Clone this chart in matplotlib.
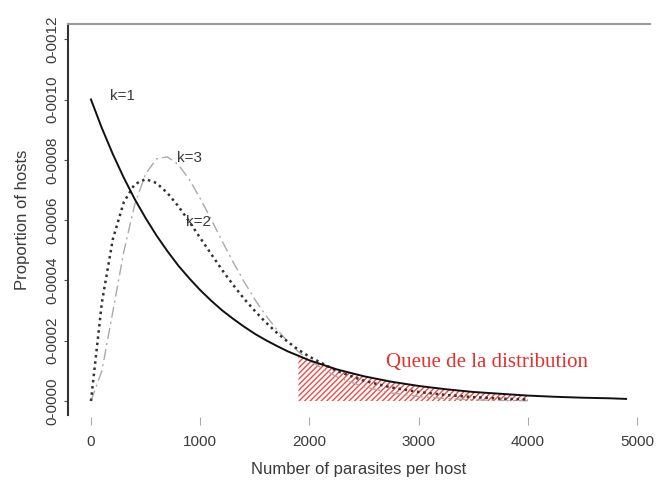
import numpy as np
import matplotlib
matplotlib.use("Agg")
import matplotlib.pyplot as plt

# parasites per host (x) and proportion of hosts (in units of 1e-4)
parasites = [0, 100, 200, 300, 400, 500, 600, 700, 800, 900, 1000,
             1100, 1200, 1300, 1400, 1500, 1600, 1700, 1800, 1900, 2000,
             2250, 2500, 2750, 3000, 3250, 3500, 3750, 4000,
             4250, 4500, 4750, 4900]
k1 = [10.00, 9.05, 8.19, 7.41, 6.70, 6.07, 5.49, 4.97, 4.49, 4.07, 3.68,
      3.33, 3.01, 2.73, 2.47, 2.23, 2.02, 1.83, 1.65, 1.50, 1.35,
      1.05, 0.82, 0.64, 0.50, 0.39, 0.30, 0.24, 0.18,
      0.14, 0.11, 0.09, 0.07]
k2 = [0.00, 3.27, 5.36, 6.59, 7.19, 7.36, 7.23, 6.90, 6.46, 5.95, 5.41,
      4.88, 4.35, 3.86, 3.40, 2.99, 2.61, 2.27, 1.97, 1.70, 1.47,
      1.00, 0.67, 0.45, 0.30, 0.20, 0.13, 0.08, 0.05]
k3 = [0.00, 1.00, 2.96, 4.94, 6.51, 7.53, 8.03, 8.10, 7.84, 7.35, 6.72,
      6.03, 5.31, 4.62, 3.97, 3.37, 2.84, 2.38, 1.98, 1.63, 1.34,
      0.80, 0.47, 0.27, 0.15, 0.08, 0.04, 0.02, 0.01]

tail_start, tail_end = 1900, 4000
x_ticks = [0, 1000, 2000, 3000, 4000, 5000]
y_ticks = [0.0, 0.0002, 0.0004, 0.0006, 0.0008, 0.0010, 0.0012]
y_labels = ["0-0000", "0-0002", "0-0004", "0-0006", "0-0008", "0-0010", "0-0012"]

x = np.array(parasites)
y1 = np.array(k1) * 1e-4
y2 = np.array(k2) * 1e-4
y3 = np.array(k3) * 1e-4

txt = "#3a3a3a"
plt.rcParams["font.family"] = ["Liberation Sans", "DejaVu Sans"]
plt.rcParams["hatch.linewidth"] = 1.0

fig = plt.figure(figsize=(6.56, 4.82), dpi=100)
ax = fig.add_axes([0.1037, 0.139, 0.8872, 0.8112])

# shaded tail of the distribution
mask = (x >= tail_start) & (x <= tail_end)
ax.fill_between(x[mask], 0, y1[mask], facecolor="none", edgecolor="#f04a45",
                hatch="//////", linewidth=0)

ax.plot(x[:len(k3)], y3, color="#aaaaaa", lw=1.0, dashes=(8, 3, 1.5, 3))
ax.plot(x[:len(k2)], y2, color="#333333", lw=1.8, dashes=(1, 1.5))
ax.plot(x, y1, color="#111111", lw=1.4)

ax.text(170, 0.00101, "k=1", fontsize=11, color=txt, va="center")
ax.text(790, 0.000805, "k=3", fontsize=11, color=txt, va="center")
ax.text(870, 0.000593, "k=2", fontsize=11, color=txt, va="center")
ax.text(3630, 0.000128, "Queue de la distribution", color="#e8302a",
        fontsize=15, family=["Liberation Serif", "DejaVu Serif"],
        ha="center", va="center")

ax.set_xlim(-210, 5119)
ax.set_ylim(-0.0000464, 0.0012504)
ax.set_xticks(x_ticks)
ax.set_yticks(y_ticks)
ax.set_yticklabels(y_labels, rotation=90, va="center")
ax.tick_params(axis="both", colors=txt, labelsize=11, direction="out")
ax.tick_params(axis="y", length=3, color="#555555")
ax.tick_params(axis="x", length=6, color="#aaaaaa", pad=7)

ax.spines["right"].set_visible(False)
ax.spines["bottom"].set_position(("outward", 1.5))
ax.spines["bottom"].set_visible(False)
ax.spines["top"].set_color("#999999")
ax.spines["top"].set_linewidth(1.5)
ax.spines["left"].set_color("#333333")
ax.spines["left"].set_linewidth(1.5)

ax.set_xlabel("Number of parasites per host", fontsize=12, color=txt, labelpad=9)
ax.set_ylabel("Proportion of hosts", fontsize=12, color=txt, labelpad=11)

fig.savefig("out.png", dpi=100)
